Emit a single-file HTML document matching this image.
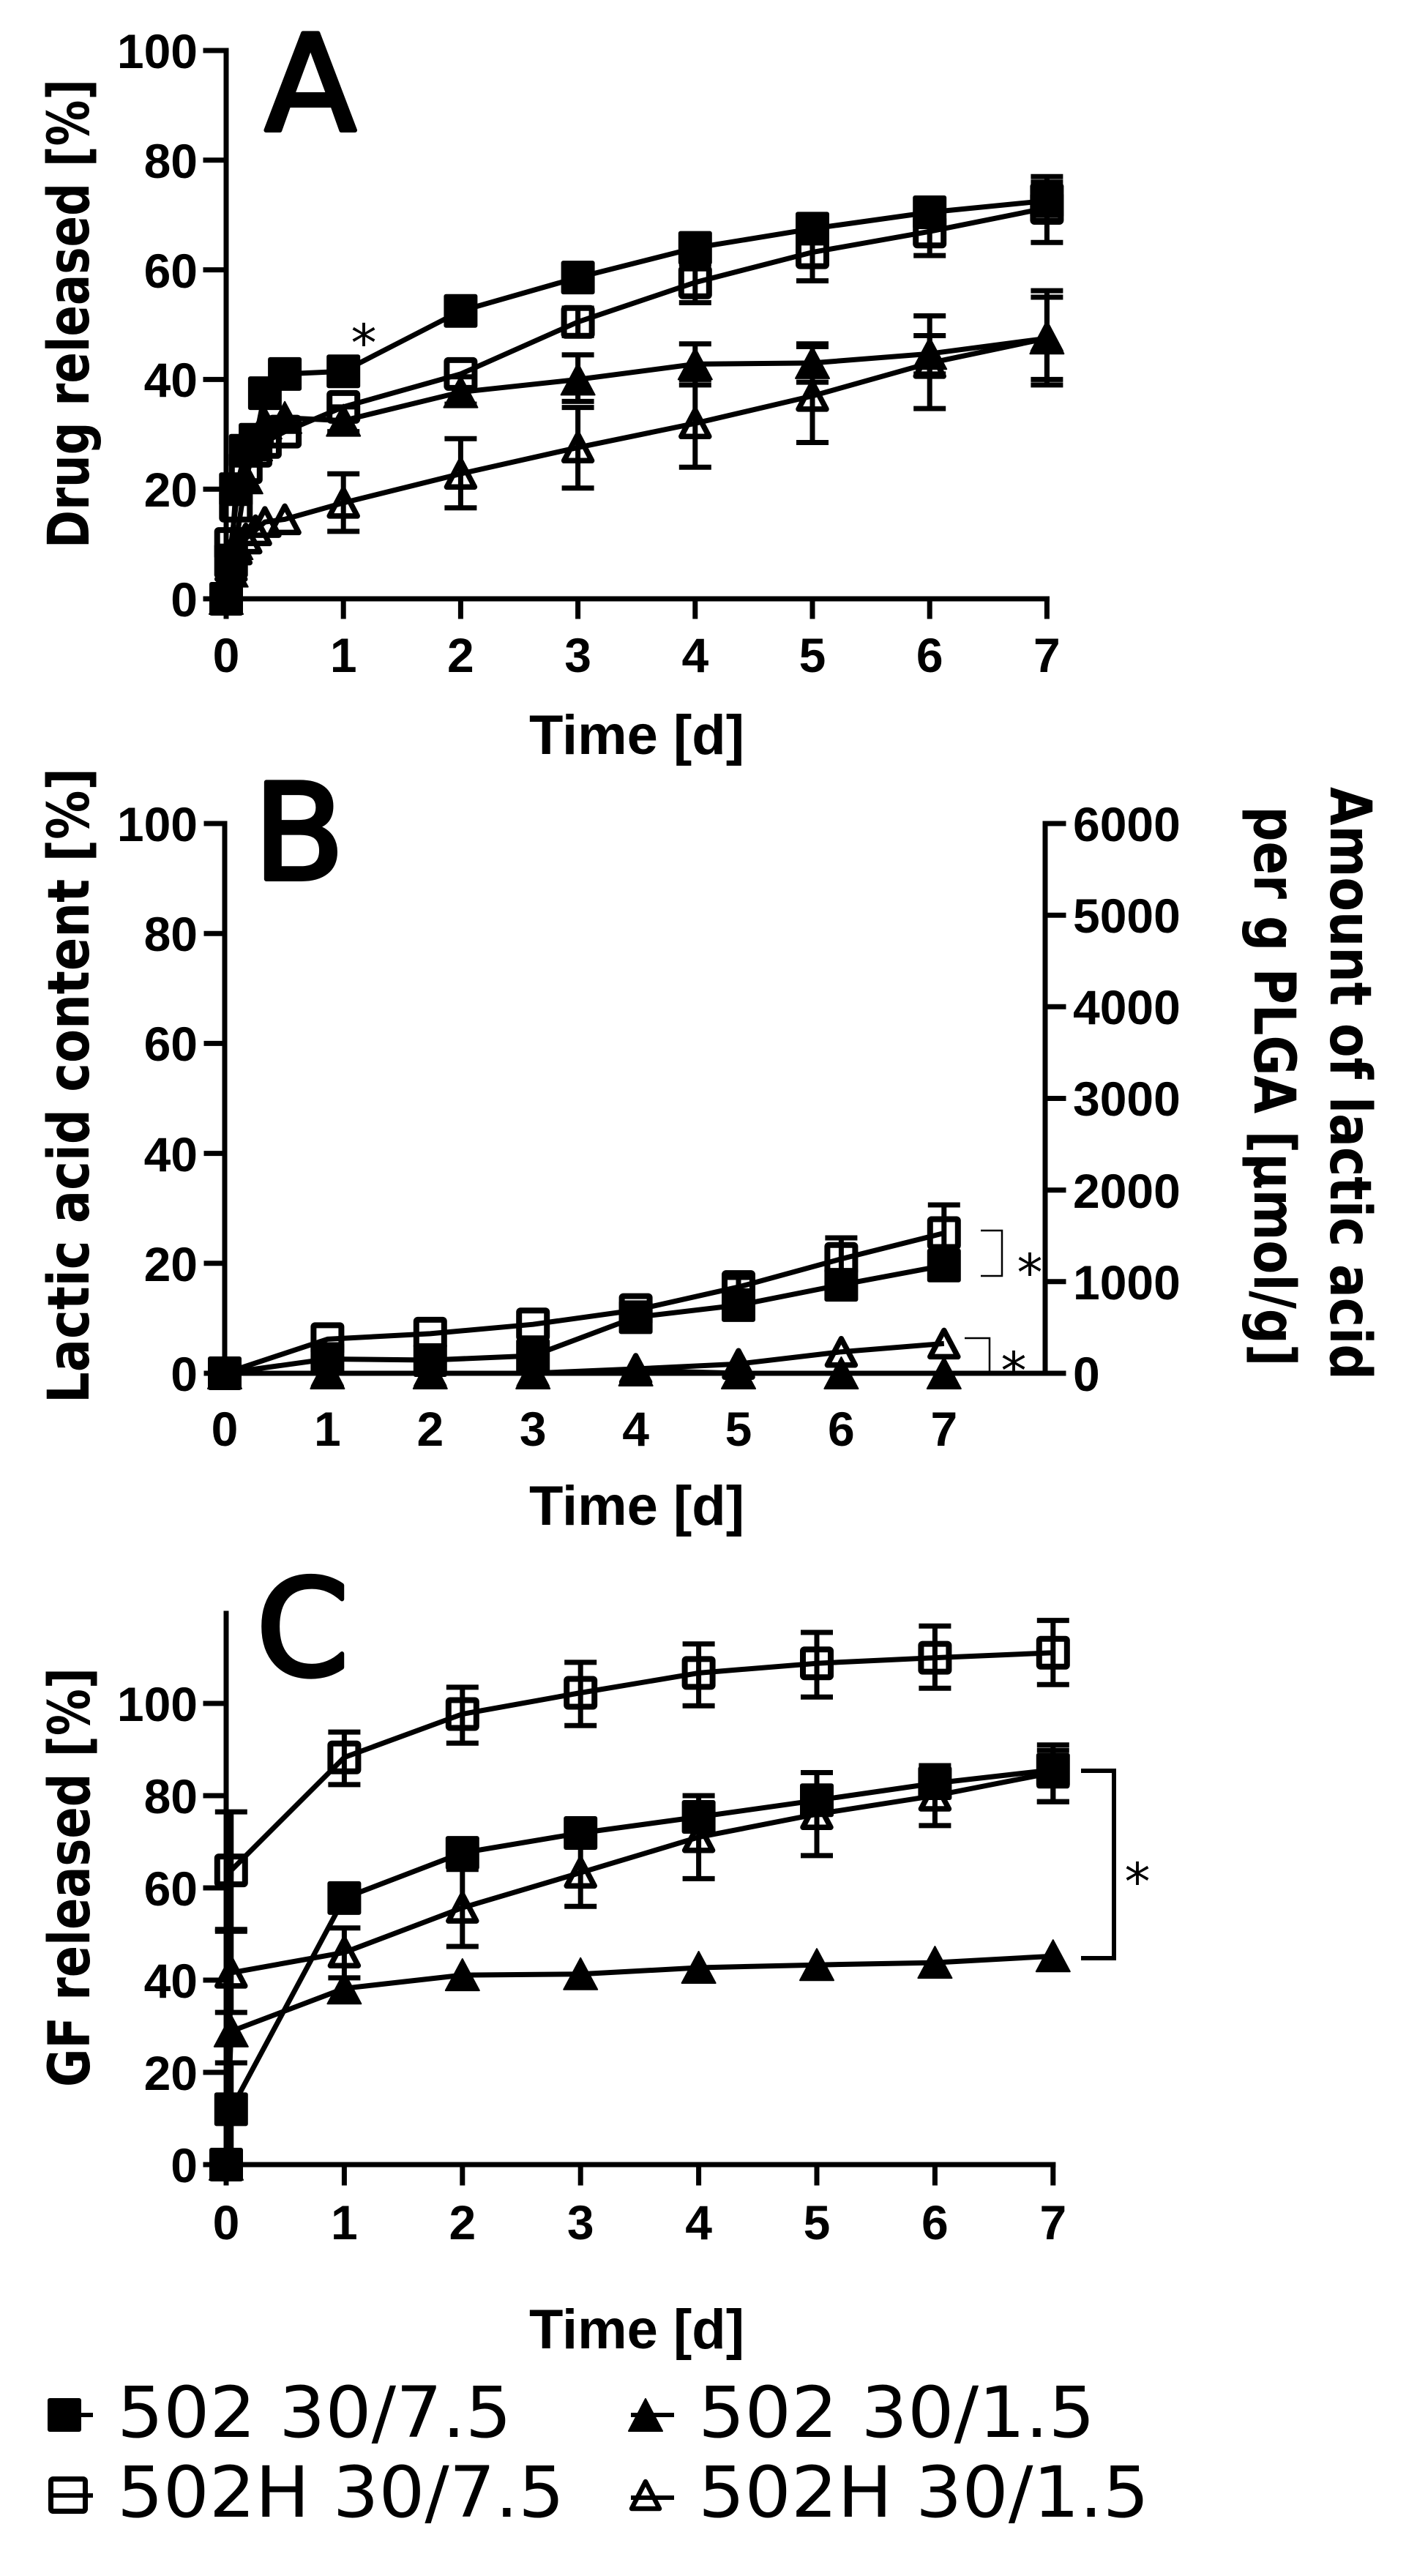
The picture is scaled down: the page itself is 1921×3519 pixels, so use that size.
<!DOCTYPE html>
<html>
<head>
<meta charset="utf-8">
<style>
html,body{margin:0;padding:0;background:#fff;}
svg{display:block;}
.tk{font-family:"Liberation Sans",Arial,sans-serif;font-weight:bold;font-size:66px;fill:#000;}
.ax{font-family:"Liberation Sans",Arial,sans-serif;font-weight:bold;font-size:76px;fill:#000;}
.yt{font-family:"DejaVu Sans","Liberation Sans",sans-serif;font-weight:bold;font-size:78px;fill:#000;}
.big{font-family:"DejaVu Sans","Liberation Sans",sans-serif;font-size:182px;fill:#000;stroke:#000;stroke-width:6;stroke-linejoin:round;}
.lg{font-family:"DejaVu Sans","Liberation Sans",sans-serif;font-size:96px;fill:#000;}
.st{font-family:"DejaVu Sans","Liberation Sans",sans-serif;font-size:70px;fill:#000;}
</style>
</head>
<body>
<svg width="1921" height="3519" viewBox="0 0 1921 3519" xmlns="http://www.w3.org/2000/svg">
<defs>
<marker id="fs" markerUnits="userSpaceOnUse" markerWidth="60" markerHeight="60" refX="30" refY="30" overflow="visible"><rect x="7" y="7" width="46" height="46" rx="3" fill="#000"/></marker>
<marker id="os" markerUnits="userSpaceOnUse" markerWidth="60" markerHeight="60" refX="30" refY="30" overflow="visible"><rect x="11" y="11" width="38" height="38" rx="2" fill="none" stroke="#000" stroke-width="8"/></marker>
<marker id="ft" markerUnits="userSpaceOnUse" markerWidth="60" markerHeight="60" refX="30" refY="30" overflow="visible"><polygon points="30,8 53,51 7,51" fill="#000" stroke="#000" stroke-width="2" stroke-linejoin="round"/></marker>
<marker id="ot" markerUnits="userSpaceOnUse" markerWidth="60" markerHeight="60" refX="30" refY="30" overflow="visible"><polygon points="30,12 49,48 11,48" fill="none" stroke="#000" stroke-width="7.5" stroke-linejoin="round"/></marker>
</defs>
<rect width="1921" height="3519" fill="#fff"/>

<!-- ================= PANEL A ================= -->
<g fill="none" stroke="#000" stroke-width="7" stroke-linecap="square">
<path d="M309 69 V818 H1430.4"/>
<path d="M281 69 H309 M281 218.8 H309 M281 368.6 H309 M281 518.4 H309 M281 668.2 H309 M281 818 H309"/>
<path d="M309 818 V842 M469.2 818 V842 M629.4 818 V842 M789.6 818 V842 M949.8 818 V842 M1110 818 V842 M1270.2 818 V842 M1430.4 818 V842"/>
</g>
<g class="tk" text-anchor="end">
<text x="270" y="93">100</text><text x="270" y="243">80</text><text x="270" y="393">60</text>
<text x="270" y="542">40</text><text x="270" y="692">20</text><text x="270" y="842">0</text>
</g>
<g class="tk" text-anchor="middle">
<text x="309" y="918">0</text><text x="469.2" y="918">1</text><text x="629.4" y="918">2</text><text x="789.6" y="918">3</text>
<text x="949.8" y="918">4</text><text x="1110" y="918">5</text><text x="1270.2" y="918">6</text><text x="1430.4" y="918">7</text>
</g>
<text class="ax" x="870" y="1030" text-anchor="middle" textLength="294" lengthAdjust="spacingAndGlyphs">Time [d]</text>
<text class="yt" transform="translate(121,428.5) rotate(-90)" text-anchor="middle" textLength="641" lengthAdjust="spacingAndGlyphs">Drug released [%]</text>
<text class="big" x="362" y="178">A</text>
<text class="st" x="497" y="493" text-anchor="middle">*</text>

<g fill="none" stroke="#000" stroke-width="7" stroke-linejoin="round">
<!-- OT -->
<path d="M469.2 725.9 V647.2 M447.2 725.9 h44 M447.2 647.2 h44 M629.4 693.7 V599.3 M607.4 693.7 h44 M607.4 599.3 h44 M789.6 666.7 V556.6 M767.6 666.7 h44 M767.6 556.6 h44 M949.8 638.2 V518.4 M927.8 638.2 h44 M927.8 518.4 h44 M1110 604.5 V473.5 M1088 604.5 h44 M1088 473.5 h44 M1270.2 558.1 V431.5 M1248.2 558.1 h44 M1248.2 431.5 h44 M1430.4 518.4 V406 M1408.4 518.4 h44 M1408.4 406 h44"/>
<polyline marker-start="url(#ot)" marker-mid="url(#ot)" marker-end="url(#ot)" points="309,818 315.7,773.1 322.3,750.6 335.8,735.6 349.1,724.4 361.9,713.1 389.1,709.4 469.2,686.9 629.4,647.2 789.6,611.3 949.8,578.3 1110,540.9 1270.2,495.9 1430.4,462.2"/>
<!-- FT -->
<path d="M469.2 589.6 V555.9 M447.2 589.6 h44 M447.2 555.9 h44 M629.4 552.1 V514.7 M607.4 552.1 h44 M607.4 514.7 h44 M789.6 548.4 V484.7 M767.6 548.4 h44 M767.6 484.7 h44 M949.8 525.9 V469.7 M927.8 525.9 h44 M927.8 469.7 h44 M1110 522.1 V469.7 M1088 522.1 h44 M1088 469.7 h44 M1270.2 510.9 V458.5 M1248.2 510.9 h44 M1248.2 458.5 h44 M1430.4 525.9 V397.1 M1408.4 525.9 h44 M1408.4 397.1 h44"/>
<polyline marker-start="url(#ft)" marker-mid="url(#ft)" marker-end="url(#ft)" points="309,818 315.7,780.6 322.3,743.1 335.8,653.2 349.1,608.3 361.9,578.3 389.1,570.8 469.2,574.6 629.4,535.6 789.6,518.4 949.8,497.4 1110,495.9 1270.2,483.2 1430.4,462.2"/>
<!-- OS -->
<path d="M789.6 458.5 V421 M767.6 458.5 h44 M767.6 421 h44 M949.8 413.5 V361 M927.8 413.5 h44 M927.8 361 h44 M1110 383.6 V308.7 M1088 383.6 h44 M1088 308.7 h44 M1270.2 349.1 V286.2 M1248.2 349.1 h44 M1248.2 286.2 h44 M1430.4 331.2 V241.3 M1408.4 331.2 h44 M1408.4 241.3 h44"/>
<polyline marker-start="url(#os)" marker-mid="url(#os)" marker-end="url(#os)" points="309,818 315.7,743.1 322.3,690.7 335.8,638.2 349.1,615.8 361.9,603.8 389.1,589.6 469.2,555.9 629.4,510.9 789.6,439.8 949.8,385.8 1110,344.6 1270.2,316.2 1430.4,284"/>
<!-- FS -->
<path d="M1430.4 301 V248.8 M1408.4 301 h44 M1408.4 248.8 h44 M1270.2 300 V280 M1248.2 300 h44 M1248.2 280 h44"/>
<polyline marker-start="url(#fs)" marker-mid="url(#fs)" marker-end="url(#fs)" points="309,818 315.7,765.6 322.3,668.2 335.8,615.8 349.1,600.8 361.9,537.1 389.1,510.9 469.2,507.2 629.4,424.8 789.6,379.1 949.8,338.6 1110,312.4 1270.2,290 1430.4,274.2"/>
</g>

<!-- ================= PANEL B ================= -->
<g fill="none" stroke="#000" stroke-width="7" stroke-linecap="square">
<path d="M307 1125 V1876 H1428 V1125"/>
<path d="M282 1125 H307 M282 1275.2 H307 M282 1425.4 H307 M282 1575.6 H307 M282 1725.8 H307 M282 1876 H307"/>
<path d="M1428 1125 H1453 M1428 1250.2 H1453 M1428 1375.3 H1453 M1428 1500.5 H1453 M1428 1625.7 H1453 M1428 1750.8 H1453 M1428 1876 H1453"/>
</g>
<g class="tk" text-anchor="end">
<text x="270" y="1149">100</text><text x="270" y="1299">80</text><text x="270" y="1449">60</text>
<text x="270" y="1600">40</text><text x="270" y="1750">20</text><text x="270" y="1900">0</text>
</g>
<g class="tk" text-anchor="start">
<text x="1466" y="1149">6000</text><text x="1466" y="1274">5000</text><text x="1466" y="1399">4000</text>
<text x="1466" y="1524">3000</text><text x="1466" y="1650">2000</text><text x="1466" y="1775">1000</text><text x="1466" y="1900">0</text>
</g>
<g class="tk" text-anchor="middle">
<text x="307" y="1975">0</text><text x="447.4" y="1975">1</text><text x="587.8" y="1975">2</text><text x="728.2" y="1975">3</text>
<text x="868.6" y="1975">4</text><text x="1009" y="1975">5</text><text x="1149.4" y="1975">6</text><text x="1289.8" y="1975">7</text>
</g>
<text class="ax" x="870" y="2083" text-anchor="middle" textLength="294" lengthAdjust="spacingAndGlyphs">Time [d]</text>
<text class="yt" transform="translate(121,1483) rotate(-90)" text-anchor="middle" textLength="868" lengthAdjust="spacingAndGlyphs">Lactic acid content [%]</text>
<text class="yt" transform="translate(1818,1480) rotate(90)" text-anchor="middle" textLength="810" lengthAdjust="spacingAndGlyphs">Amount of lactic acid</text>
<text class="yt" transform="translate(1714,1484) rotate(90)" text-anchor="middle" textLength="765" lengthAdjust="spacingAndGlyphs">per g PLGA [µmol/g]</text>
<text class="big" x="346" y="1201">B</text>

<g fill="none" stroke="#000" stroke-width="7" stroke-linejoin="round">
<polyline marker-start="url(#ot)" marker-mid="url(#ot)" marker-end="url(#ot)" points="307,1876 447.4,1876 587.8,1876 728.2,1876 868.6,1870 1009,1863.2 1149.4,1846.7 1289.8,1835.4"/>
<polyline marker-start="url(#ft)" marker-mid="url(#ft)" marker-end="url(#ft)" points="307,1876 447.4,1876 587.8,1876 728.2,1876 868.6,1872 1009,1876 1149.4,1876 1289.8,1876"/>
<path d="M1149.4 1748 V1691 M1127.4 1748 h44 M1127.4 1691 h44 M1289.8 1722 V1646 M1267.8 1722 h44 M1267.8 1646 h44 M1009 1770 V1745 M987 1770 h44 M987 1745 h44"/>
<polyline marker-start="url(#os)" marker-mid="url(#os)" marker-end="url(#os)" points="307,1876 447.4,1829.4 587.8,1821.9 728.2,1809.2 868.6,1789.6 1009,1758.1 1149.4,1719.8 1289.8,1684.5"/>
<path d="M1289.8 1745 V1712 M1267.8 1745 h44 M1267.8 1712 h44"/>
<polyline marker-start="url(#fs)" marker-mid="url(#fs)" marker-end="url(#fs)" points="307,1876 447.4,1856.5 587.8,1858 728.2,1852 868.6,1799.4 1009,1782.9 1149.4,1755.1 1289.8,1728.8"/>
</g>
<g fill="none" stroke="#000" stroke-width="2.5">
<path d="M1340 1681 H1369 V1743 H1340"/>
<path d="M1318 1828 H1352 V1876"/>
</g>
<text class="st" x="1407" y="1763" text-anchor="middle">*</text>
<text class="st" x="1385" y="1897" text-anchor="middle">*</text>

<!-- ================= PANEL C ================= -->
<g fill="none" stroke="#000" stroke-width="7" stroke-linecap="square">
<path d="M309 2204 V2957 H1438.8"/>
<path d="M281 2327 H309 M281 2453 H309 M281 2579 H309 M281 2705 H309 M281 2831 H309 M281 2957 H309"/>
<path d="M309 2957 V2982 M470.4 2957 V2982 M631.8 2957 V2982 M793.2 2957 V2982 M954.6 2957 V2982 M1116 2957 V2982 M1277.4 2957 V2982 M1438.8 2957 V2982"/>
</g>
<g class="tk" text-anchor="end">
<text x="270" y="2351">100</text><text x="270" y="2477">80</text><text x="270" y="2603">60</text>
<text x="270" y="2729">40</text><text x="270" y="2855">20</text><text x="270" y="2981">0</text>
</g>
<g class="tk" text-anchor="middle">
<text x="309" y="3059">0</text><text x="470.4" y="3059">1</text><text x="631.8" y="3059">2</text><text x="793.2" y="3059">3</text>
<text x="954.6" y="3059">4</text><text x="1116" y="3059">5</text><text x="1277.4" y="3059">6</text><text x="1438.8" y="3059">7</text>
</g>
<text class="ax" x="870" y="3208" text-anchor="middle" textLength="294" lengthAdjust="spacingAndGlyphs">Time [d]</text>
<text class="yt" transform="translate(122,2564.5) rotate(-90)" text-anchor="middle" textLength="573" lengthAdjust="spacingAndGlyphs">GF released [%]</text>
<text class="big" x="350" y="2288">C</text>

<g fill="none" stroke="#000" stroke-width="7" stroke-linejoin="round">
<!-- OT -->
<path d="M315.8 2749.1 V2638.2 M293.8 2749.1 h44 M293.8 2638.2 h44 M470.4 2701.9 V2633.8 M448.4 2701.9 h44 M448.4 2633.8 h44 M631.8 2659 V2553.8 M609.8 2659 h44 M609.8 2553.8 h44 M793.2 2604.2 V2512.9 M771.2 2604.2 h44 M771.2 2512.9 h44 M954.6 2566.4 V2453 M932.6 2566.4 h44 M932.6 2453 h44 M1116 2534.9 V2421.5 M1094 2534.9 h44 M1094 2421.5 h44 M1277.4 2493.9 V2412 M1255.4 2493.9 h44 M1255.4 2412 h44 M1438.8 2461.2 V2383.7 M1416.8 2461.2 h44 M1416.8 2383.7 h44"/>
<polyline marker-start="url(#ot)" marker-mid="url(#ot)" marker-end="url(#ot)" points="309,2957 315.8,2694.9 470.4,2667.2 631.8,2606.1 793.2,2558.2 954.6,2509.7 1116,2478.2 1277.4,2453 1438.8,2421.5"/>
<!-- FT -->
<polyline marker-start="url(#ft)" marker-mid="url(#ft)" marker-end="url(#ft)" points="309,2957 315.8,2774.9 470.4,2716.3 631.8,2698.1 793.2,2696.8 954.6,2688 1116,2684.2 1277.4,2681.1 1438.8,2672.2"/>
<!-- OS -->
<path d="M315.8 2635.7 V2475.1 M293.8 2635.7 h44 M293.8 2475.1 h44 M470.4 2437.9 V2366.1 M448.4 2437.9 h44 M448.4 2366.1 h44 M631.8 2381.2 V2304.9 M609.8 2381.2 h44 M609.8 2304.9 h44 M793.2 2357.2 V2270.9 M771.2 2357.2 h44 M771.2 2270.9 h44 M954.6 2330.2 V2245.7 M932.6 2330.2 h44 M932.6 2245.7 h44 M1116 2318.2 V2230 M1094 2318.2 h44 M1094 2230 h44 M1277.4 2306.2 V2221.2 M1255.4 2306.2 h44 M1255.4 2221.2 h44 M1438.8 2301.2 V2213.6 M1416.8 2301.2 h44 M1416.8 2213.6 h44"/>
<polyline marker-start="url(#os)" marker-mid="url(#os)" marker-end="url(#os)" points="309,2957 315.8,2555.1 470.4,2400.7 631.8,2341.5 793.2,2312.5 954.6,2285.4 1116,2272.2 1277.4,2264.6 1438.8,2257.7"/>
<!-- FS -->
<path d="M315.8 2944 V2818 M293.8 2818 h44 M1438.8 2461.2 V2391.3 M1416.8 2461.2 h44 M1416.8 2391.3 h44"/>
<polyline marker-start="url(#fs)" marker-mid="url(#fs)" marker-end="url(#fs)" points="309,2957 315.8,2881.4 470.4,2592.9 631.8,2531.1 793.2,2504 954.6,2482 1116,2459.3 1277.4,2436 1438.8,2417.7"/>
</g>
<path d="M1477 2419 H1522 V2675 H1477" fill="none" stroke="#000" stroke-width="6"/>
<text class="st" x="1554" y="2595" text-anchor="middle">*</text>

<!-- ================= LEGEND ================= -->
<g stroke="#000" stroke-width="6" fill="none">
<path d="M70 3299 H127"/>
<path d="M69 3409 H127"/>
<path d="M862 3299 H921"/>
<path d="M862 3412 H921"/>
</g>
<rect x="65" y="3276" width="46" height="46" rx="3" fill="#000"/>
<rect x="69.5" y="3386.5" width="47" height="44" rx="3" fill="none" stroke="#000" stroke-width="7"/>
<polygon points="882,3277 905,3321 859,3321" fill="#000" stroke="#000" stroke-width="2" stroke-linejoin="round"/>
<polygon points="882,3390 901,3427 863,3427" fill="none" stroke="#000" stroke-width="6.5" stroke-linejoin="round"/>
<text class="lg" x="160" y="3329" textLength="539" lengthAdjust="spacingAndGlyphs">502 30/7.5</text>
<text class="lg" x="160" y="3438" textLength="611" lengthAdjust="spacingAndGlyphs">502H 30/7.5</text>
<text class="lg" x="954" y="3329" textLength="542" lengthAdjust="spacingAndGlyphs">502 30/1.5</text>
<text class="lg" x="954" y="3438" textLength="616" lengthAdjust="spacingAndGlyphs">502H 30/1.5</text>
</svg>
</body>
</html>
